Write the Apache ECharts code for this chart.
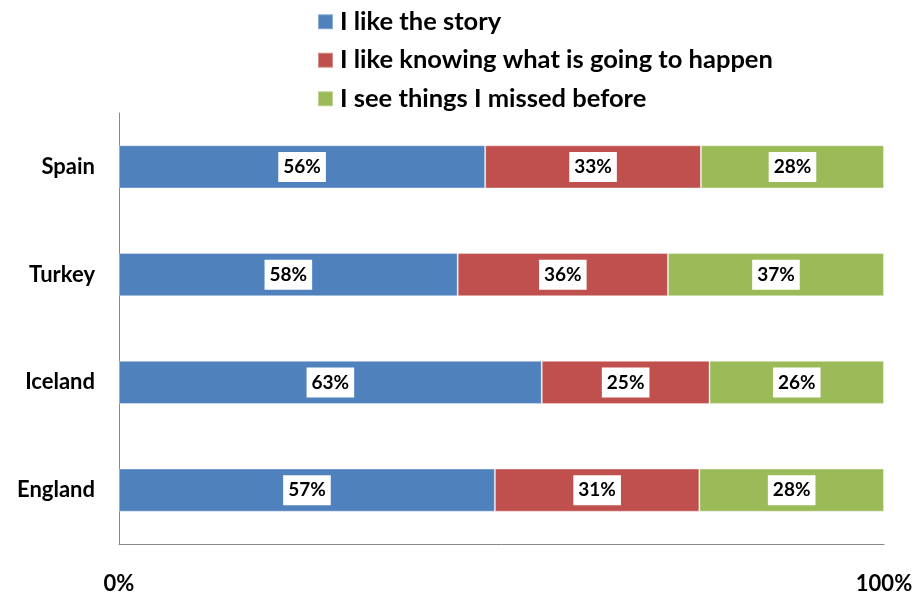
<!DOCTYPE html>
<html><head><meta charset="utf-8">
<script src="https://cdn.jsdelivr.net/npm/echarts@6/dist/echarts.min.js"></script>
<style>html,body{margin:0;padding:0;background:#fff}#c{width:916px;height:597px}</style>
</head><body><div id="c"></div>
<script>
const categories = ['Spain', 'Turkey', 'Iceland', 'England'];
const seriesNames = ['I like the story', 'I like knowing what is going to happen', 'I see things I missed before'];
const likeStory = [56, 58, 63, 57];
const likeKnowing = [33, 36, 25, 31];
const seeMissed = [28, 37, 26, 28];
const xTicks = ['0%', '100%'];
const colors = ['#4F81BD', '#C0504D', '#9BBB59'];

const raw = [likeStory, likeKnowing, seeMissed];
const totals = categories.map((c, i) => raw.reduce((s, a) => s + a[i], 0));
const FONT = 'Lato, "Open Sans", sans-serif';

const chart = echarts.init(document.getElementById('c'));
chart.setOption({
  animation: false,
  color: colors,
  legend: {
    orient: 'vertical', left: 312, top: 2,
    itemWidth: 15, itemHeight: 15, itemGap: 9,
    icon: 'rect',
    textStyle: { fontFamily: FONT, fontWeight: 'bold', fontSize: 25.5, color: '#000', lineHeight: 29.5, padding: [0, 0, 0, 2] },
    data: seriesNames
  },
  grid: { left: 119, right: 32, top: 113, bottom: 53 },
  xAxis: {
    type: 'value', min: 0, max: 100, interval: 100,
    axisLine: { show: true, lineStyle: { color: '#888' } },
    axisTick: { show: false }, splitLine: { show: false },
    axisLabel: { margin: 29, fontFamily: FONT, fontWeight: 'bold', fontSize: 22, color: '#000',
      formatter: (v) => v === 0 ? xTicks[0] : xTicks[1] }
  },
  yAxis: {
    type: 'category', inverse: true, data: categories,
    axisLine: { show: true, lineStyle: { color: '#888' } },
    axisTick: { show: false },
    axisLabel: { margin: 24, fontFamily: FONT, fontWeight: 'bold', fontSize: 22, color: '#000' }
  },
  series: raw.map((arr, si) => ({
    name: seriesNames[si], type: 'bar', stack: 'all', barWidth: '40%',
    itemStyle: { borderColor: 'rgba(255,255,255,0.35)', borderWidth: 1 },
    label: {
      show: true, position: 'inside', fontFamily: FONT, fontWeight: 'bold', fontSize: 19, color: '#000',
      backgroundColor: '#fff', padding: [6, 5, 5, 5],
      formatter: (p) => arr[p.dataIndex] + '%'
    },
    data: arr.map((v, i) => v / totals[i] * 100)
  }))
});
</script></body></html>
